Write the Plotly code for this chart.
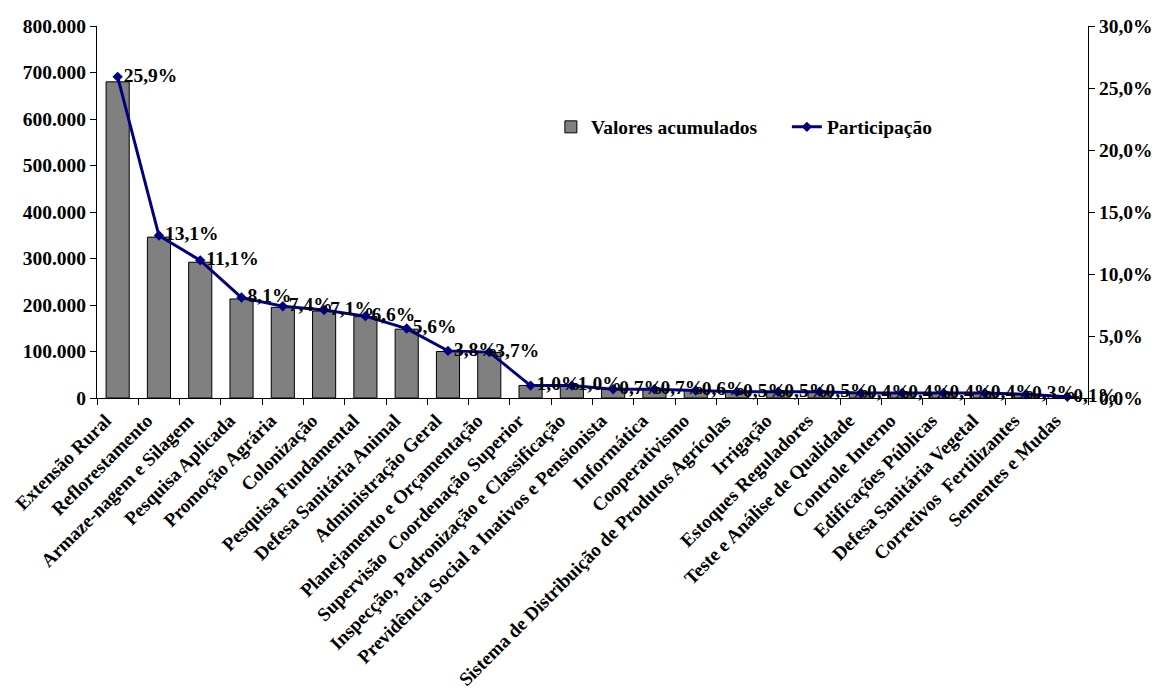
import plotly.graph_objects as go

# Programas e valores acumulados
categorias = [
    "Extensão Rural", "Reflorestamento", "Armaze-nagem e Silagem", "Pesquisa Aplicada",
    "Promoção Agrária", "Colonização", "Pesquisa Fundamental", "Defesa Sanitária Animal",
    "Administração Geral", "Planejamento e Orçamentação", "Supervisão\u00a0 Coordenação Superior",
    "Inspecção, Padronização e Classificação", "Previdência Social a Inativos e Pensionista",
    "Informática", "Cooperativismo", "Sistema de Distribuição de Produtos Agrícolas",
    "Irrigação", "Estoques Reguladores", "Teste e Análise de Qualidade", "Controle Interno",
    "Edificações Públicas", "Defesa Sanitária Vegetal", "Corretivos\u00a0 Fertilizantes",
    "Sementes e Mudas",
]
valores_acumulados = [
    680000, 346000, 292000, 213000, 195000, 187000, 175000, 148000, 100000, 98000,
    27000, 26000, 19000, 18000, 16000, 14000, 13000, 13000, 11000, 10000,
    10000, 10000, 8000, 3000,
]
participacao = [
    25.9, 13.1, 11.1, 8.1, 7.4, 7.1, 6.6, 5.6, 3.8, 3.7,
    1.0, 1.0, 0.7, 0.7, 0.6, 0.5, 0.5, 0.5, 0.4, 0.4,
    0.4, 0.4, 0.3, 0.1,
]

NAVY = "#000080"
SERIF = "Liberation Serif, Times New Roman, serif"
TICKFONT = dict(family=SERIF, size=19.5, weight="bold", color="black")
XFONT = dict(family=SERIF, size=19, weight="bold", color="black")
N = len(categorias)

fig = go.Figure()
fig.add_trace(go.Bar(
    x=categorias, y=valores_acumulados, name="Valores acumulados",
    marker=dict(color="#808080", line=dict(color="black", width=1)),
))
fig.add_trace(go.Scatter(
    x=categorias, y=participacao, name="Participação", yaxis="y2",
    mode="lines+markers+text",
    line=dict(color=NAVY, width=3),
    marker=dict(symbol="diamond", size=8, color=NAVY),
    texttemplate="%{y:.1f}%", textposition="middle right",
    textfont=TICKFONT,
    cliponaxis=False,
))

# inner halves of the tick marks, so each tick crosses its axis line
inner = dict(showline=False, showgrid=False, zeroline=False, showticklabels=False,
             ticks="inside", ticklen=5, tickcolor="black", automargin=False)

fig.update_layout(
    width=1156, height=697,
    margin=dict(l=97, r=68, t=26, b=299, autoexpand=False),
    paper_bgcolor="white", plot_bgcolor="white",
    separators=",.",
    font=dict(family=SERIF, size=19.5, color="black", weight="bold"),
    bargap=0.44,
    showlegend=True,
    legend=dict(orientation="h", x=0.458, y=0.728, xanchor="left", yanchor="middle",
                bgcolor="rgba(0,0,0,0)", font=TICKFONT, itemwidth=30,
                entrywidth=191, entrywidthmode="pixels"),
    xaxis=dict(
        range=[-0.5, N - 0.5], automargin=False,
        showline=True, linecolor="black", linewidth=1,
        ticks="outside", tickson="boundaries", ticklen=6, tickcolor="black",
        tickangle=-45, ticklabelstandoff=3, ticklabelshift=-12,
        showgrid=False, zeroline=False, tickfont=XFONT,
    ),
    yaxis=dict(
        range=[0, 800000], dtick=100000, tickformat=",.0f", automargin=False,
        showline=True, linecolor="black", linewidth=1,
        ticks="outside", ticklen=6, tickcolor="black",
        showgrid=False, zeroline=False, tickfont=TICKFONT,
    ),
    yaxis2=dict(
        range=[0, 30], dtick=5, tickformat=".1f", ticksuffix="%", automargin=False,
        overlaying="y", side="right",
        showline=True, linecolor="black", linewidth=1,
        ticks="outside", ticklen=6, tickcolor="black",
        showgrid=False, zeroline=False, tickfont=TICKFONT,
    ),
    xaxis3=dict(range=[-0.5, N - 0.5], tick0=-0.5, dtick=1, overlaying="x",
                anchor="y", side="bottom", **inner),
    yaxis3=dict(range=[0, 800000], dtick=100000, overlaying="y", side="left",
                anchor="x", **inner),
    yaxis4=dict(range=[0, 30], dtick=5, overlaying="y", side="right",
                anchor="x", **inner),
)

fig.write_html("out.html")
